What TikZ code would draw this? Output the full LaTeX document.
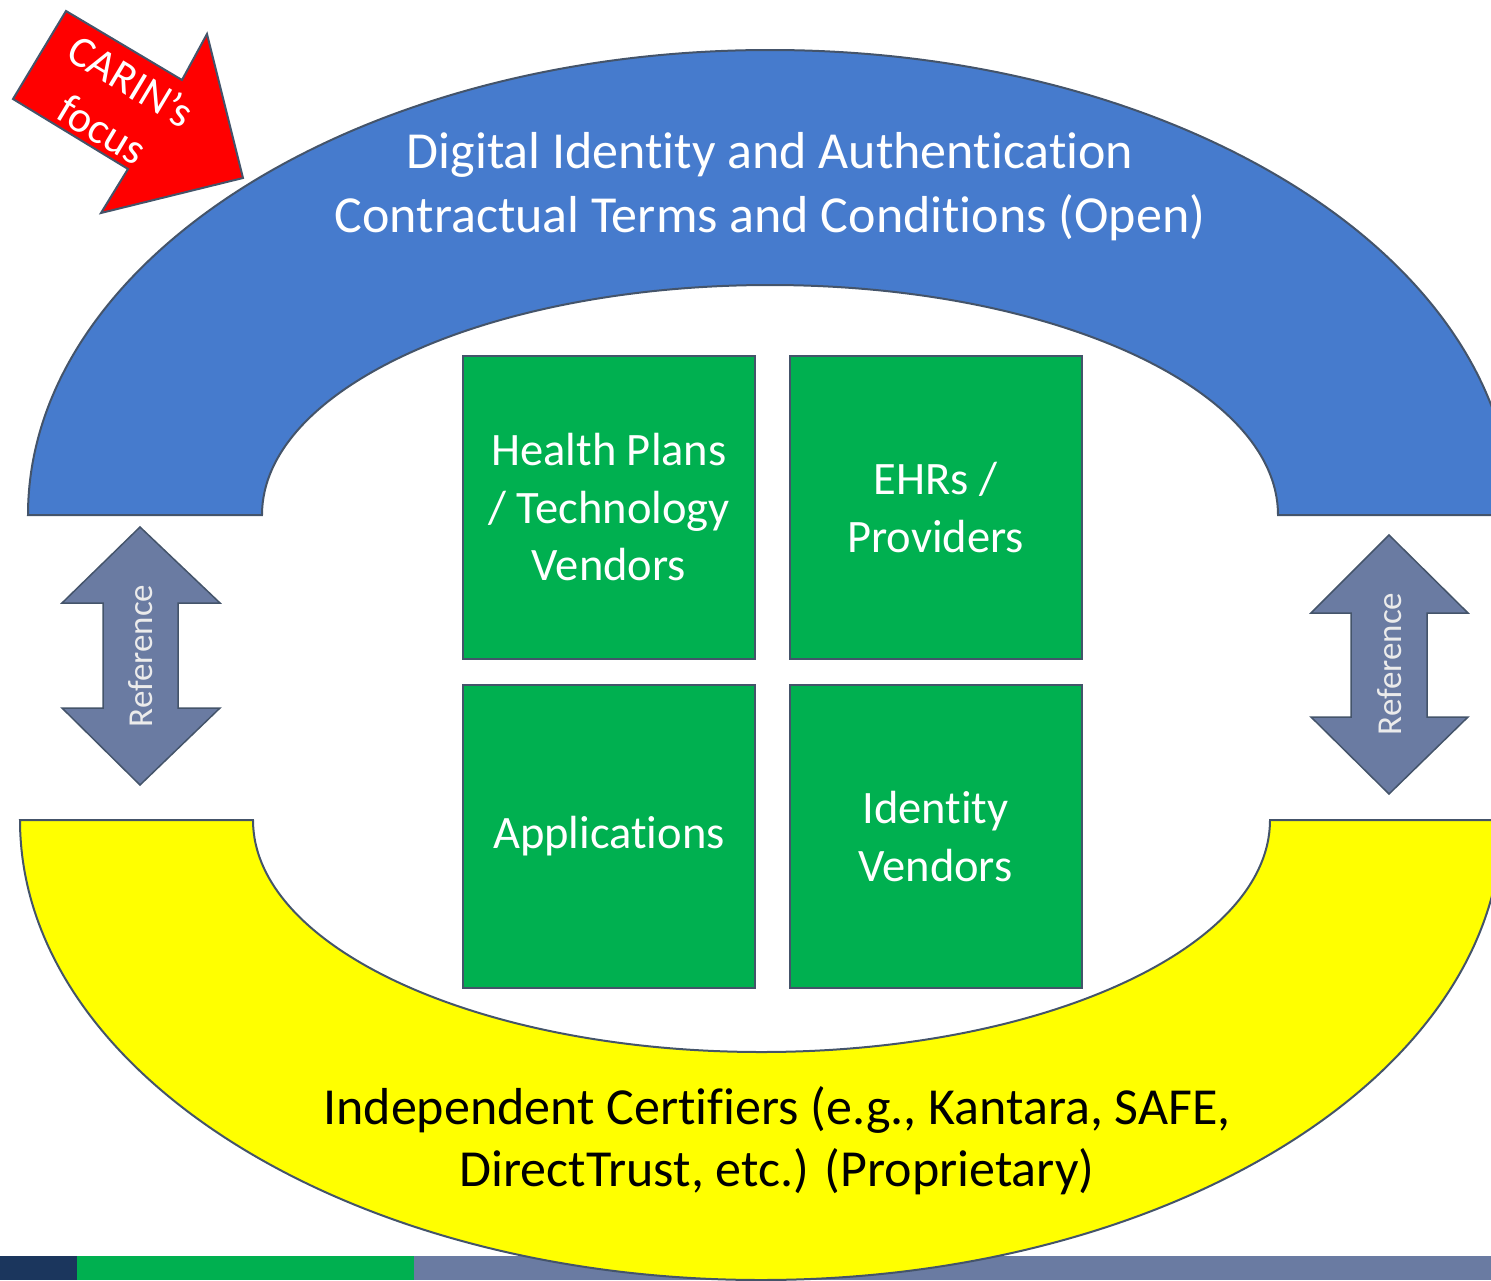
\documentclass[tikz,border=0pt]{standalone}
\usepackage{fontspec}
\setmainfont{Carlito}[Ligatures={NoCommon,NoContextual,NoRequired}, RawFeature={-liga;-clig;-dlig;-rlig;-calt}]
\definecolor{ringblue}{RGB}{70,123,205}
\definecolor{ringyellow}{RGB}{255,255,0}
\definecolor{tilegreen}{RGB}{0,176,80}
\definecolor{edgegray}{RGB}{68,84,106}
\definecolor{refgray}{RGB}{106,123,162}
\definecolor{barnavy}{RGB}{27,54,93}
\tikzset{
  ring/.style={draw=edgegray, line width=2pt},
  tile/.style={draw=edgegray, fill=tilegreen, line width=2pt, minimum width=292, minimum height=303,
    align=center, text=white, font=\fontsize{46.5}{57.5}\selectfont},
  refarrow/.style={draw=edgegray, fill=refgray, line width=1.5pt},
  reftext/.style={text=white!92!black, font=\fontsize{35}{42}\selectfont, rotate=90}
}
\begin{document}
\begin{tikzpicture}[x=1pt, y=-1pt]
            \useasboundingbox (0,0) rectangle (1491,1280);
            \clip (0,0) rectangle (1491,1280);
            \fill[barnavy] (0,1256) rectangle (77,1280);
            \fill[tilegreen] (77,1256) rectangle (414,1280);
            \fill[refgray] (414,1256) rectangle (1491,1280);
            \draw[ring, fill=ringblue] (28,515) arc[start angle=180, end angle=360, x radius=742, y radius=465]
                -- (1278,515) arc[start angle=0, end angle=-180, x radius=508, y radius=230] -- cycle;
            \draw[ring, fill=ringyellow] (20,820) arc[start angle=180, end angle=0, x radius=741, y radius=460]
                -- (1270,820) arc[start angle=0, end angle=180, x radius=508.5, y radius=232] -- cycle;
            \node[align=center, text=white, font=\fontsize{52}{64}\selectfont] (digital) at (770,187)
                {Digital Identity and Authentication\\Contractual Terms and Conditions (Open)};
            \node[align=center, font=\fontsize{52}{62}\selectfont] (certifiers) at (777,1141)
                {Independent Certifiers (e.g., Kantara, SAFE,\\DirectTrust, etc.) (Proprietary)};
            \node[tile] (plans) at (609,507.5) {Health Plans\\/ Technology\\Vendors};
            \node[tile] (ehrs) at (935.5,507.5) {EHRs /\\Providers};
            \node[tile] (apps) at (609,836.5) {Applications};
            \node[tile] (idv) at (935.5,836.5) {Identity\\Vendors};
            \draw[refarrow] (140,527) -- (220,603) -- (178,603) -- (178,708) -- (220,708) -- (140,785)
                -- (62,708) -- (103,708) -- (103,603) -- (62,603) -- cycle;
            \node[reftext] (refleft) at (141,656) {Reference};
            \draw[refarrow] (1389,535) -- (1468,613) -- (1427,613) -- (1427,717) -- (1468,717) -- (1389,794)
                -- (1311,717) -- (1351,717) -- (1351,613) -- (1311,613) -- cycle;
            \node[reftext] (refright) at (1390,664) {Reference};
            \draw[line width=2pt, draw=edgegray, fill=red] (66,11) -- (182,80) -- (207,34) -- (243,178)
                -- (101,213) -- (128,169) -- (13,99) -- cycle;
            \node[align=center, text=white, rotate=-31, font=\fontsize{44}{56}\selectfont] (focus) at (117,105)
                {CARIN’s\\focus};
        \end{tikzpicture}
\end{document}
